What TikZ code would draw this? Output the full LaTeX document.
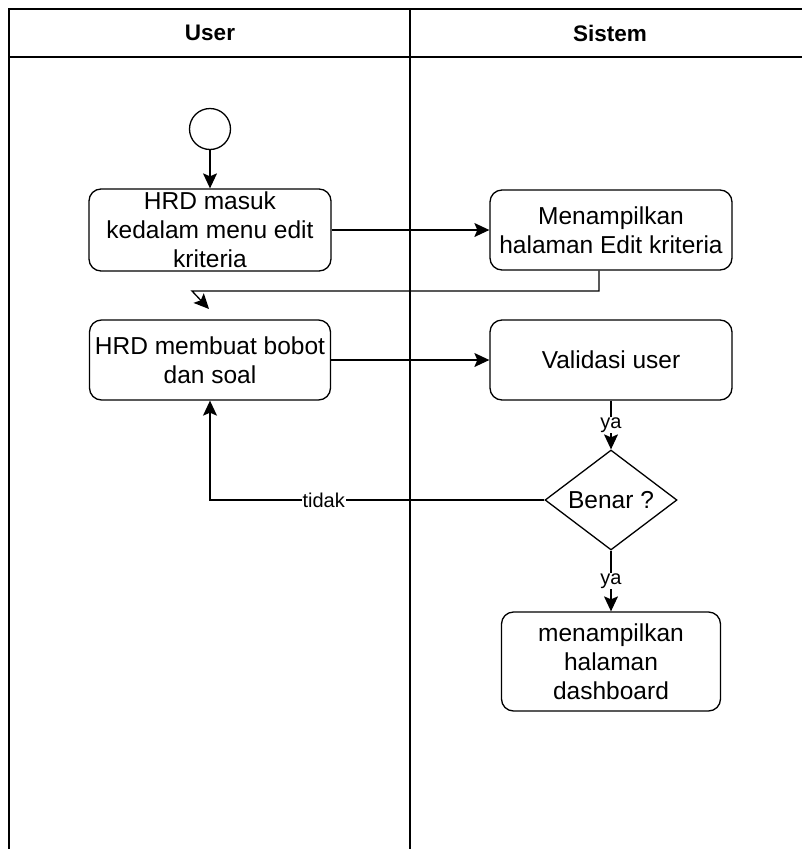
\documentclass[tikz,border=0pt]{standalone}
\usepackage{fontspec}
\setmainfont{Liberation Sans}
\usetikzlibrary{arrows.meta,shapes.geometric}
\tikzset{
  aksi/.style={draw, rounded corners=12pt, minimum width=242pt, minimum height=80pt,
    inner sep=0pt, align=center, font=\fontsize{24.5}{29}\selectfont},
  keputusan/.style={draw, diamond, aspect=1.32, minimum width=132pt, minimum height=100pt,
    inner sep=0pt, font=\fontsize{24.5}{29}\selectfont},
  awal/.style={draw, circle, minimum size=41pt, inner sep=0pt},
  lbl/.style={fill=white, inner sep=1pt, font=\fontsize{20}{24}\selectfont}
}
\begin{document}
\begin{tikzpicture}[x=1pt, y=-1pt, line width=1.3pt,
  >={Stealth[length=15pt, width=14pt, inset=3pt]}]
\useasboundingbox (0, 0) rectangle (802, 849);
\draw (9, 849) -- (9, 9) -- (802, 9) (9, 57) -- (802, 57) (410, 9) -- (410, 849);
\node [font=\bfseries\fontsize{22.5}{27}\selectfont] (user) at (210, 33) {User};
\node [font=\bfseries\fontsize{22.5}{27}\selectfont] (sistem) at (610, 33) {Sistem};
\node [awal] (start) at (210, 129) {};
\node [aksi, minimum height=82pt] (masuk) at (210, 230) {HRD masuk\\kedalam menu edit\\kriteria};
\node [aksi] (tampil) at (611, 230) {Menampilkan\\halaman Edit kriteria};
\node [aksi, minimum width=241pt] (bobot) at (210, 360) {HRD membuat bobot\\dan soal};
\node [aksi] (validasi) at (611, 360) {Validasi user};
\node [keputusan] (benar) at (611, 500) {Benar ?};
\node [aksi, minimum width=219pt, minimum height=99pt] (dash) at (611, 661.5)
  {menampilkan\\halaman\\dashboard};
\coordinate (b1) at (192, 291);
\coordinate (b2) at (209, 309);
\draw [->] (start) -- (masuk);
\draw [->] (masuk) -- (tampil);
\draw [->] ([xshift=-12pt]tampil.south) |- (b1) -- (b2);
\draw [->] (bobot) -- (validasi);
\draw [->] (validasi) -- (benar) node [midway, lbl] {ya};
\draw [->] (benar) -- (dash) node [midway, lbl] {ya};
\draw [->] (benar.west) -| (bobot.south) node [pos=.33, lbl] {tidak};
\end{tikzpicture}
\end{document}
